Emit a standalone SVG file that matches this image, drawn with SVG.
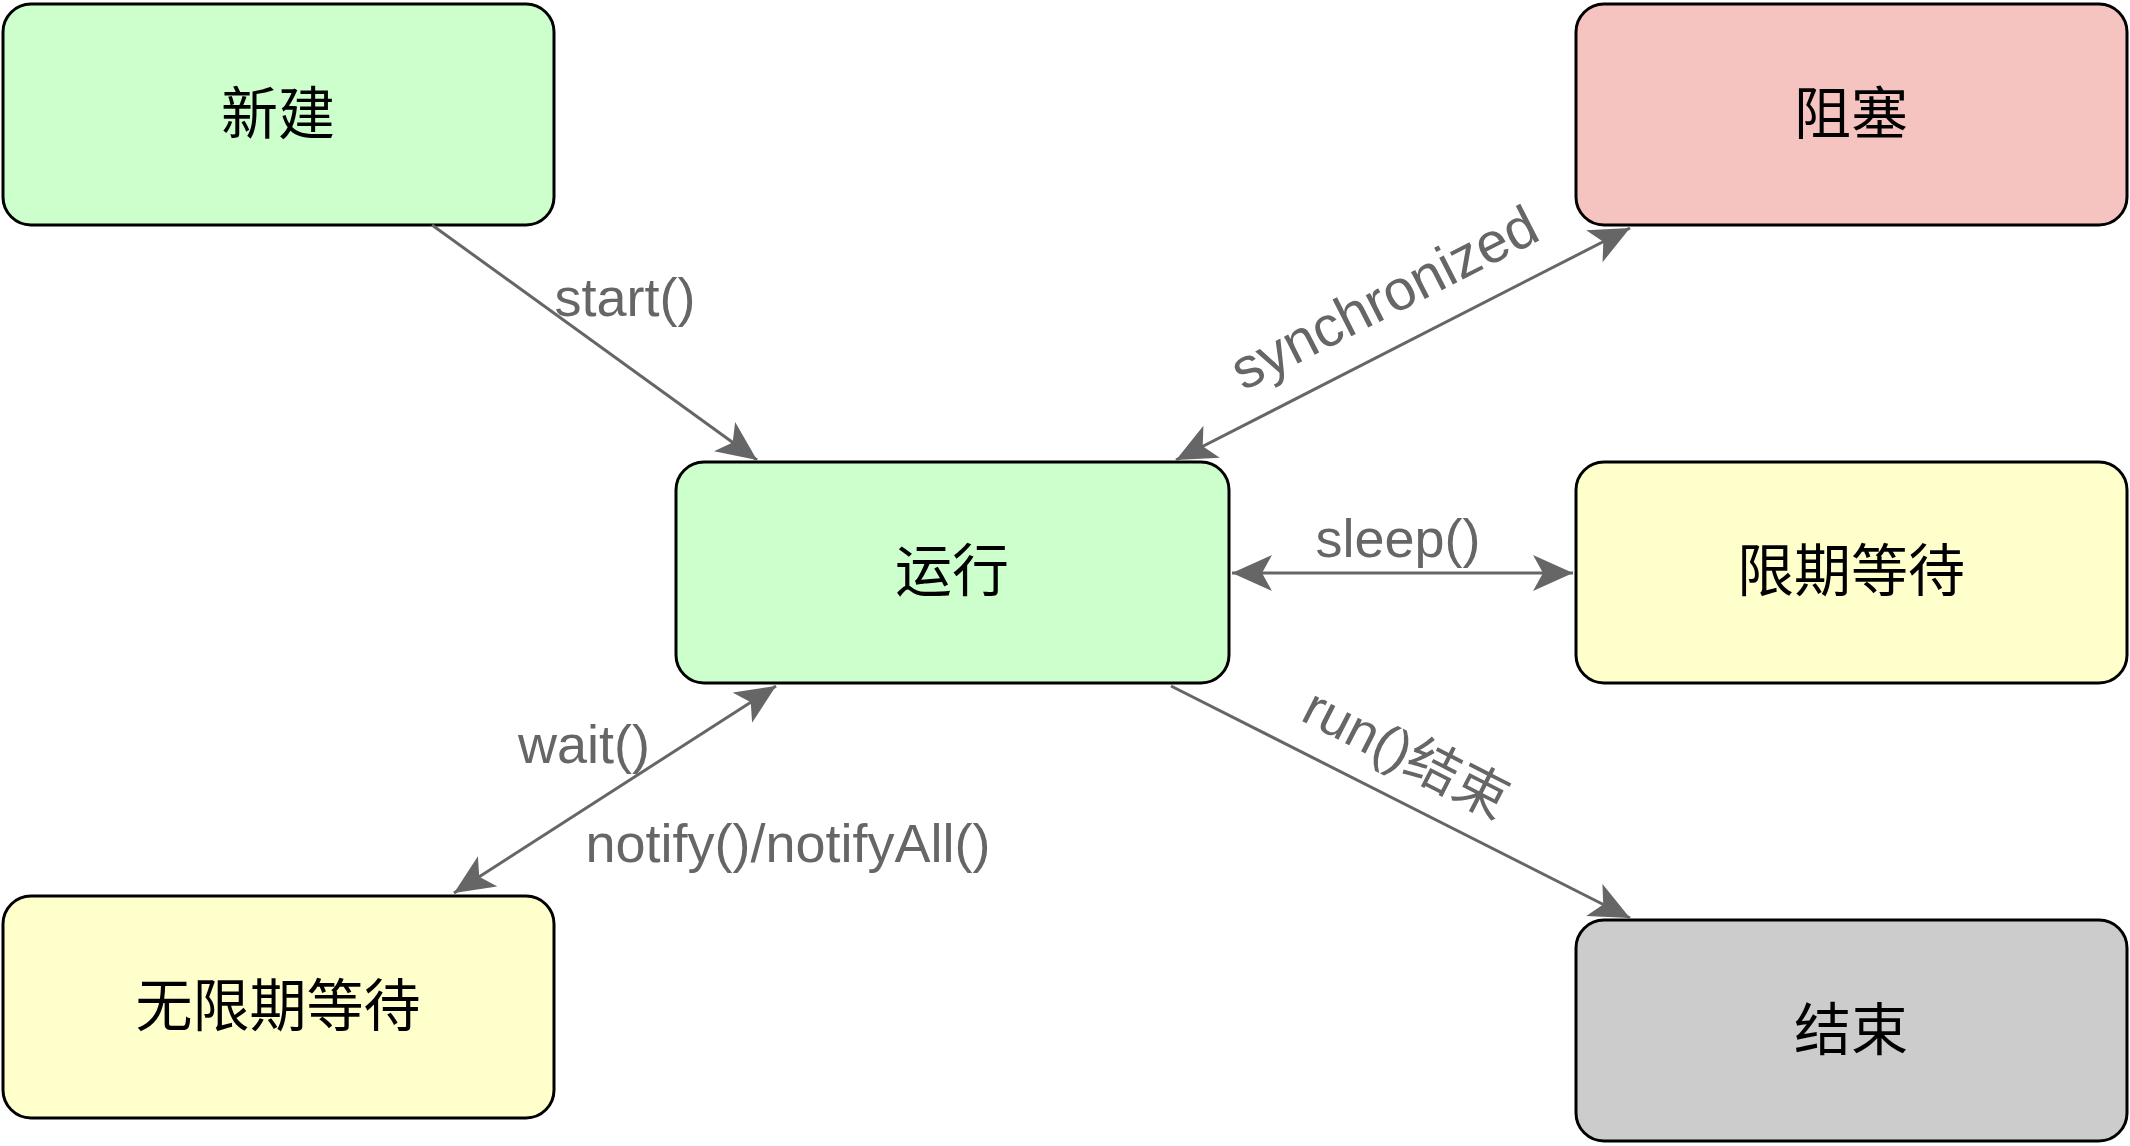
<svg xmlns="http://www.w3.org/2000/svg" width="2130" height="1146" viewBox="0 0 2130 1146">
<style>
.node rect{stroke:#000;stroke-width:3}
.green{fill:#ccffcc}.yellow{fill:#ffffcc}.pink{fill:#f5c3c0}.gray{fill:#cccccc}
.nl{font-family:"Liberation Sans","Noto Sans CJK SC",sans-serif;font-size:57px;fill:#000;text-anchor:middle;dominant-baseline:central}
.edge{stroke:#666;stroke-width:3;fill:none}
.el{font-family:"Liberation Sans","Noto Sans CJK SC",sans-serif;font-size:54px;fill:#666;text-anchor:middle}
</style>
<defs>
<marker id="arr" markerUnits="userSpaceOnUse" markerWidth="44" markerHeight="40" refX="40" refY="18" orient="auto-start-reverse" viewBox="0 0 44 40">
<path d="M40,18 L0,0 L10,18 L0,36 Z" fill="#666"/>
</marker>
</defs>
<g id="n-new" class="node"><rect class="green" x="3" y="4" width="551" height="221" rx="28"/><text class="nl" x="278" y="114">新建</text></g>
<g id="n-blocked" class="node"><rect class="pink" x="1576" y="4" width="551" height="221" rx="28"/><text class="nl" x="1851" y="114">阻塞</text></g>
<g id="n-running" class="node"><rect class="green" x="676" y="462" width="553" height="221" rx="28"/><text class="nl" x="952" y="571">运行</text></g>
<g id="n-timed" class="node"><rect class="yellow" x="1576" y="462" width="551" height="221" rx="28"/><text class="nl" x="1851" y="571">限期等待</text></g>
<g id="n-waiting" class="node"><rect class="yellow" x="3" y="896" width="551" height="222" rx="28"/><text class="nl" x="278" y="1006">无限期等待</text></g>
<g id="n-end" class="node"><rect class="gray" x="1576" y="920" width="551" height="221" rx="28"/><text class="nl" x="1851" y="1030">结束</text></g>
<g id="connectors">
<line class="edge" x1="432" y1="225" x2="757" y2="460" marker-end="url(#arr)"/>
<text class="el" x="625" y="316">start()</text>
<line class="edge" x1="1176" y1="460" x2="1630" y2="228" marker-start="url(#arr)" marker-end="url(#arr)"/>
<text class="el" x="1393" y="315" style="font-size:57px" transform="rotate(-27 1393 315)">synchronized</text>
<line class="edge" x1="1232" y1="573" x2="1573" y2="573" marker-start="url(#arr)" marker-end="url(#arr)"/>
<text class="el" x="1398" y="557">sleep()</text>
<line class="edge" x1="776" y1="686" x2="454" y2="893" marker-start="url(#arr)" marker-end="url(#arr)"/>
<text class="el" x="584" y="763">wait()</text>
<text class="el" x="788" y="862">notify()/notifyAll()</text>
<line class="edge" x1="1171" y1="686" x2="1630" y2="918" marker-end="url(#arr)"/>
<text class="el" x="1398" y="770" transform="rotate(27 1398 770)">run()结束</text>
</g>
</svg>
